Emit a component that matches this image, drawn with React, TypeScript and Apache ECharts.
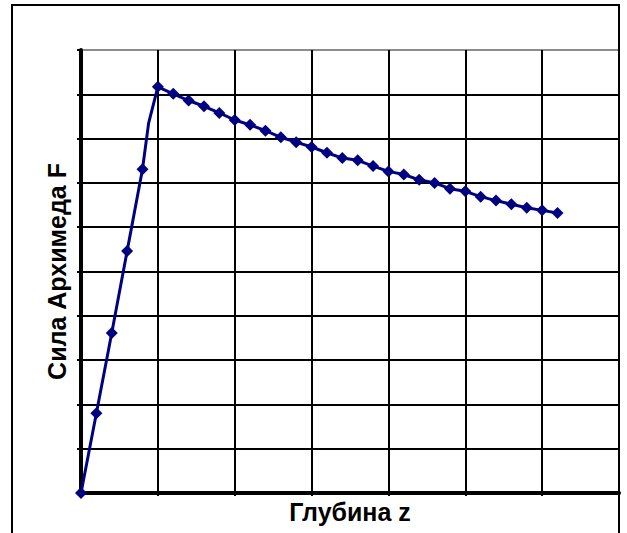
import React, { useEffect, useRef } from "react";
import * as echarts from "echarts";

const depthZ: number[] = [0, 0.2, 0.4, 0.6, 0.8, 0.88, 1.0, 1.2, 1.4, 1.6, 1.8, 2.0, 2.2, 2.4, 2.6, 2.8, 3.0, 3.2, 3.4, 3.6, 3.8, 4.0, 4.2, 4.4, 4.6, 4.8, 5.0, 5.2, 5.4, 5.6, 5.8, 6.0, 6.2];
const forceF: number[] = [0, 1.8, 3.61, 5.46, 7.31, 8.35, 9.17, 9.01, 8.86, 8.73, 8.58, 8.42, 8.31, 8.18, 8.03, 7.92, 7.81, 7.68, 7.56, 7.51, 7.38, 7.26, 7.19, 7.07, 7.0, 6.87, 6.81, 6.69, 6.6, 6.52, 6.44, 6.38, 6.32];
const markerless: number[] = [0.88];

const xTitle = "Глубина z";
const yTitle = "Сила Архимеда F";

export default function App() {
  const ref = useRef<HTMLDivElement>(null);
  useEffect(() => {
    if (!ref.current) return;
    const chart = echarts.init(ref.current, undefined, { renderer: "svg" });
    const data = depthZ.map((z, i) =>
      markerless.includes(z)
        ? { value: [z, forceF[i]], symbol: "none" }
        : { value: [z, forceF[i]] }
    );
    const yColors = Array.from({ length: 11 }, (_, i) => (i === 10 ? "#8c8c8c" : "#000"));
    const xColors = Array.from({ length: 8 }, (_, i) => (i === 7 ? "#8c8c8c" : "#000"));
    chart.setOption({
      animation: false,
      backgroundColor: "#fff",
      grid: { left: 81, right: 8, top: 50, bottom: 40 },
      xAxis: {
        type: "value",
        min: 0,
        max: 7,
        interval: 1,
        name: xTitle,
        nameLocation: "middle",
        nameGap: 6,
        nameTextStyle: { fontFamily: "Liberation Sans, Arial", fontWeight: "bold", fontSize: 25, color: "#000", verticalAlign: "top" },
        axisLine: { show: true, onZero: false, lineStyle: { color: "#000", width: 4 } },
        axisTick: { show: true, length: 3, lineStyle: { color: "#000", width: 2 } },
        axisLabel: { show: false },
        splitLine: { show: true, lineStyle: { color: xColors, width: 2 } },
      },
      yAxis: {
        type: "value",
        min: 0,
        max: 10,
        interval: 1,
        name: yTitle,
        nameLocation: "middle",
        nameGap: 12,
        nameRotate: 90,
        nameTextStyle: { fontFamily: "Liberation Sans, Arial", fontWeight: "bold", fontSize: 25, color: "#000" },
        axisLine: { show: true, onZero: false, lineStyle: { color: "#000", width: 4 } },
        axisTick: { show: true, length: 4, lineStyle: { color: "#000", width: 2 } },
        axisLabel: { show: false },
        splitLine: { show: true, lineStyle: { color: yColors, width: 2 } },
      },
      series: [
        {
          type: "line",
          data,
          symbol: "diamond",
          symbolSize: 12,
          lineStyle: { color: "#000080", width: 3 },
          itemStyle: { color: "#000080" },
          z: 5,
        },
      ],
      graphic: [
        {
          type: "rect",
          shape: { x: 12, y: 5, width: 607, height: 560 },
          style: { fill: "none", stroke: "#000", lineWidth: 2 },
          z: 10,
          silent: true,
        },
      ],
    });
    return () => chart.dispose();
  }, []);
  return <div ref={ref} style={{ position: "fixed", left: 0, top: 0, width: 627, height: 533 }} />;
}
